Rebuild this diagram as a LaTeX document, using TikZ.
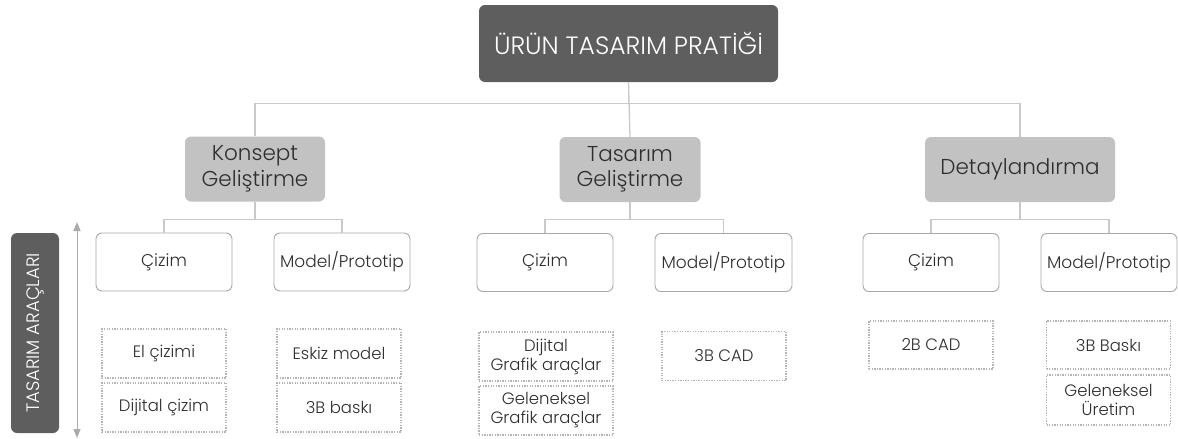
\documentclass[tikz,border=0pt]{standalone}
\usepackage{fontspec}
\setmainfont{Poppins Light}
\usetikzlibrary{arrows.meta}
\definecolor{darkbox}{HTML}{5E5E5E}
\definecolor{midbox}{HTML}{C2C2C2}
\definecolor{linec}{HTML}{C9C9C9}
\definecolor{boxline}{HTML}{A8A8A8}
\definecolor{dotline}{HTML}{B4B4B4}
\definecolor{txt}{HTML}{2E2E2E}
\begin{document}
\begin{tikzpicture}[x=1pt,y=-1pt,
  topbox/.style={fill=darkbox,rounded corners=6pt,minimum width=299pt,minimum height=77pt,inner sep=0pt,text=white,font=\fontsize{25}{29}\selectfont},
  catbox/.style={fill=midbox,rounded corners=6pt,minimum height=65pt,inner sep=0pt,text=txt,align=center,font=\fontsize{21.5}{25.5}\selectfont},
  toolbox/.style={draw=boxline,line width=0.9pt,fill=white,rounded corners=6pt,minimum width=136pt,minimum height=58pt,inner sep=0pt,text=txt,font=\fontsize{17}{20}\selectfont},
  itembox/.style={draw=dotline,line width=1.3pt,dash pattern=on 1.3pt off 1.3pt,minimum width=124pt,minimum height=49pt,inner sep=0pt,text=txt,align=center,font=\fontsize{16.5}{19}\selectfont},
  conn/.style={draw=linec,line width=1.3pt},
  sidebox/.style={fill=darkbox,rounded corners=6pt,minimum width=200pt,minimum height=48pt,inner sep=0pt,text=white,font=\fontsize{18}{20}\selectfont}
]
\useasboundingbox (0,0) rectangle (1178,439);
% top
\node[topbox] (top) at (628.5,43.5) {ÜRÜN TASARIM PRATİĞİ};
% categories
\node[catbox,minimum width=140pt] (k) at (255,169) {Konsept\\Geliştirme};
\node[catbox,minimum width=141pt] (t) at (630,169.5) {Tasarım\\Geliştirme};
\node[catbox,minimum width=190pt] (d) at (1020,169.5) {Detaylandırma};
% tools
\node[toolbox] (kc) at (164,262) {Çizim};
\node[toolbox] (km) at (342,262) {Model/Prototip};
\node[toolbox] (tc) at (545,262.5) {Çizim};
\node[toolbox,minimum width=137pt] (tm) at (723.5,262.5) {Model/Prototip};
\node[toolbox] (dc) at (931,262.5) {Çizim};
\node[toolbox] (dm) at (1109,262.5) {Model/Prototip};
% items
\node[itembox] (k1) at (164,353.5) {El çizimi};
\node[itembox] (k2) at (164,407.5) {Dijital çizim};
\node[itembox] (k3) at (339,353.5) {Eskiz model};
\node[itembox] (k4) at (339,407.5) {3B baskı};
\node[itembox,minimum width=134pt] (t1) at (546,356.5) {Dijital\\Grafik araçlar};
\node[itembox,minimum width=134pt] (t2) at (546,410.5) {Geleneksel\\Grafik araçlar};
\node[itembox] (t3) at (724,356) {3B CAD};
\node[itembox,minimum height=48pt] (d1) at (931,345) {2B CAD};
\node[itembox,minimum height=48pt] (d2) at (1108.5,345) {3B Baskı};
\node[itembox,minimum height=50pt] (d3) at (1108.5,400) {Geleneksel\\Üretim};
% side
\node[sidebox,rotate=90] (side) at (35,333) {TASARIM ARAÇLARI};
\coordinate (atop) at (77,222);
\coordinate (abot) at (77,438);
\draw[draw=linec!85!black,line width=1pt,{Triangle[width=7pt,length=9pt]}-{Triangle[width=7pt,length=9pt]}] (atop) -- (abot);
% connectors
\draw[conn] (top.south) -- (t.north);
\draw[conn] (top.south) -- ++(0,21) -| (k.north);
\draw[conn] (top.south) -- ++(0,21) -| (d.north);
\draw[conn] (k.south) -- ++(0,18) -| (kc.north);
\draw[conn] (k.south) -- ++(0,18) -| (km.north);
\draw[conn] (t.south) -- ++(0,17) -| (tc.north);
\draw[conn] (t.south) -- ++(0,17) -| (tm.north);
\draw[conn] (d.south) -- ++(0,17) -| (dc.north);
\draw[conn] (d.south) -- ++(0,17) -| (dm.north);
\end{tikzpicture}
\end{document}
